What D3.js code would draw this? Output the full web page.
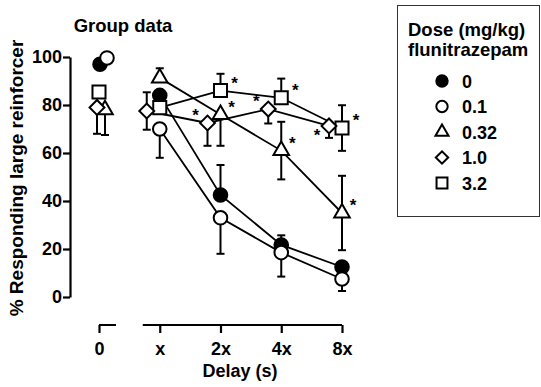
<!DOCTYPE html>
<html>
<head>
<meta charset="utf-8">
<script src="https://cdn.jsdelivr.net/npm/d3@7"></script>
<style>
  body { margin: 0; background: #fff; }
  svg text { font-family: "Liberation Sans", Arial, sans-serif; font-weight: bold; fill: #000; }
</style>
</head>
<body>
<svg id="chart" width="541" height="387"></svg>
<script>
// delay categories ("0" is the no-delay baseline, drawn on its own axis piece)
const categories = ['0', 'x', '2x', '4x', '8x'];
const yTicks = [0, 20, 40, 60, 80, 100];
const doseLabels = ['0', '0.1', '0.32', '1.0', '3.2'];

// % responding for large reinforcer, one array per dose
const dose0 = [97, 84, 42.5, 21.7, 12.5];
const dose01 = [99.6, 70, 33, 18.5, 7.5];
const dose032 = [78, 91.3, 76, 61, 35];
const dose1 = [79, 77.5, 72.5, 78.3, 71.3];
const dose32 = [85.4, 78.9, 86, 83, 70.4];

// SEM
const sem0 = [0, 0, 12.5, 4, 0];
const sem01 = [0, 12, 15, 10, 5];
const sem032 = [10.5, 4, 13, 12, 15.5];
const sem1 = [11, 7.8, 9.5, 6, 5];
const sem32 = [0, 0, 7, 8, 9.5];

// which side of the error bar is drawn
const dir0 = ['', '', 'up', 'up', ''];
const dir01 = ['', 'down', 'down', 'down', 'down'];
const dir032 = ['down', 'up', 'down', 'both', 'both'];
const dir1 = ['down', 'both', 'down', 'down', 'down'];
const dir32 = ['', '', 'up', 'up', 'both'];

// significant vs vehicle
const sig0 = [0, 0, 0, 0, 0];
const sig01 = [0, 0, 0, 0, 0];
const sig032 = [0, 0, 1, 1, 1];
const sig1 = [0, 0, 1, 1, 1];
const sig32 = [0, 0, 1, 1, 1];

const svg = d3.select('#chart');

const x = d3.scalePoint().domain(categories).range([99, 342]);
const y = d3.scaleLinear().domain([0, 100]).range([297, 57]);

const series = [
    { label: doseLabels[0], vals: dose0, sem: sem0, dir: dir0, sig: sig0, sym: d3.symbolCircle, size: 145, fill: '#000', rot: 0, dx0: 1, dx: 0 },
    { label: doseLabels[1], vals: dose01, sem: sem01, dir: dir01, sig: sig01, sym: d3.symbolCircle, size: 145, fill: '#fff', rot: 0, dx0: 8, dx: 0 },
    { label: doseLabels[2], vals: dose032, sem: sem032, dir: dir032, sig: sig032, sym: d3.symbolTriangle, size: 105, fill: '#fff', rot: 0, dx0: 6, dx: 0 },
    { label: doseLabels[3], vals: dose1, sem: sem1, dir: dir1, sig: sig1, sym: d3.symbolSquare, size: 110, fill: '#fff', rot: 45, dx0: -2, dx: -13 },
    { label: doseLabels[4], vals: dose32, sem: sem32, dir: dir32, sig: sig32, sym: d3.symbolSquare, size: 170, fill: '#fff', rot: 0, dx0: 0, dx: 0 }
];

const px = (s, i) => x(categories[i]) + (i === 0 ? s.dx0 : s.dx);

// y axis
const yAxis = svg.append('g')
    .attr('transform', 'translate(70,0)')
    .call(d3.axisLeft(y).tickValues(yTicks).tickSize(7).tickSizeOuter(0).tickPadding(1));
yAxis.select('.domain').attr('stroke-width', 2.2);
yAxis.selectAll('.tick line').attr('stroke-width', 2.2);
yAxis.selectAll('.tick text').attr('font-size', 18);

// x axis, broken between "0" and the delays
const xAxis = svg.append('g')
    .attr('transform', 'translate(0,325)')
    .call(d3.axisBottom(x).tickSize(8).tickSizeOuter(0).tickPadding(9));
xAxis.select('.domain').remove();
xAxis.selectAll('.tick line').attr('stroke-width', 2.2);
xAxis.selectAll('.tick text').attr('font-size', 18);
xAxis.append('path')
    .attr('d', `M${x('0')},0H${x('0') + 17}M${x('x') - 17},0H${x('8x')}`)
    .attr('stroke', '#000').attr('stroke-width', 2.2).attr('fill', 'none');

// lines (delay points only)
const line = d3.line();
series.forEach(s => {
    const pts = d3.range(1, categories.length).map(i => [px(s, i), y(s.vals[i])]);
    svg.append('path').attr('d', line(pts))
        .attr('fill', 'none').attr('stroke', '#000').attr('stroke-width', 1.8);
});

// error bars
series.forEach(s => {
    s.vals.forEach((v, i) => {
        if (!s.dir[i] || !s.sem[i]) return;
        const cx = px(s, i);
        const top = s.dir[i] === 'down' ? v : v + s.sem[i];
        const bot = s.dir[i] === 'up' ? v : v - s.sem[i];
        const g = svg.append('g').attr('stroke', '#000').attr('stroke-width', 2);
        g.append('line').attr('x1', cx).attr('x2', cx).attr('y1', y(top)).attr('y2', y(bot));
        if (s.dir[i] !== 'down') g.append('line').attr('x1', cx - 4).attr('x2', cx + 4).attr('y1', y(top)).attr('y2', y(top));
        if (s.dir[i] !== 'up') g.append('line').attr('x1', cx - 4).attr('x2', cx + 4).attr('y1', y(bot)).attr('y2', y(bot));
    });
});

// markers
const drawOrder = [2, 0, 4, 3, 1];
drawOrder.forEach(k => {
    const s = series[k];
    s.vals.forEach((v, i) => {
        svg.append('path')
            .attr('d', d3.symbol(s.sym, s.size)())
            .attr('transform', `translate(${px(s, i)},${y(v)}) rotate(${s.rot})`)
            .attr('fill', s.fill).attr('stroke', '#000').attr('stroke-width', 2);
    });
});

// asterisks
series.forEach((s, k) => {
    s.vals.forEach((v, i) => {
        if (!s.sig[i]) return;
        let ax = k === 3 ? -12 : (k === 4 ? 14 : 11);
        let ay = -2;
        if (k === 3 && i === categories.length - 1) ay = 15;
        svg.append('text')
            .attr('x', px(s, i) + ax).attr('y', y(v) + ay)
            .attr('text-anchor', 'middle').attr('font-size', 17).attr('font-weight', 'normal')
            .text('*');
    });
});

// title and axis titles
svg.append('text').attr('x', 123).attr('y', 32).attr('text-anchor', 'middle')
    .attr('font-size', 18.5).text('Group data');
svg.append('text').attr('x', 240).attr('y', 377).attr('text-anchor', 'middle')
    .attr('font-size', 18).text('Delay (s)');
svg.append('text').attr('transform', 'translate(23,178) rotate(-90)').attr('text-anchor', 'middle')
    .attr('font-size', 19).text('% Responding large reinforcer');

// legend
const lg = svg.append('g');
lg.append('rect').attr('x', 397.5).attr('y', 5.5).attr('width', 142).attr('height', 211)
    .attr('fill', 'none').attr('stroke', '#333').attr('stroke-width', 1);
lg.append('text').attr('x', 408).attr('y', 36).attr('font-size', 18.5).text('Dose (mg/kg)');
lg.append('text').attr('x', 408).attr('y', 56).attr('font-size', 18.5).text('flunitrazepam');
series.forEach((s, k) => {
    const ly = 81 + k * 25.5;
    lg.append('path')
        .attr('d', d3.symbol(s.sym, s.size * 0.7)())
        .attr('transform', `translate(442,${ly}) rotate(${s.rot})`)
        .attr('fill', s.fill).attr('stroke', '#000').attr('stroke-width', 2);
    lg.append('text').attr('x', 462).attr('y', ly + 6.5).attr('font-size', 18).text(s.label);
});
</script>
</body>
</html>
